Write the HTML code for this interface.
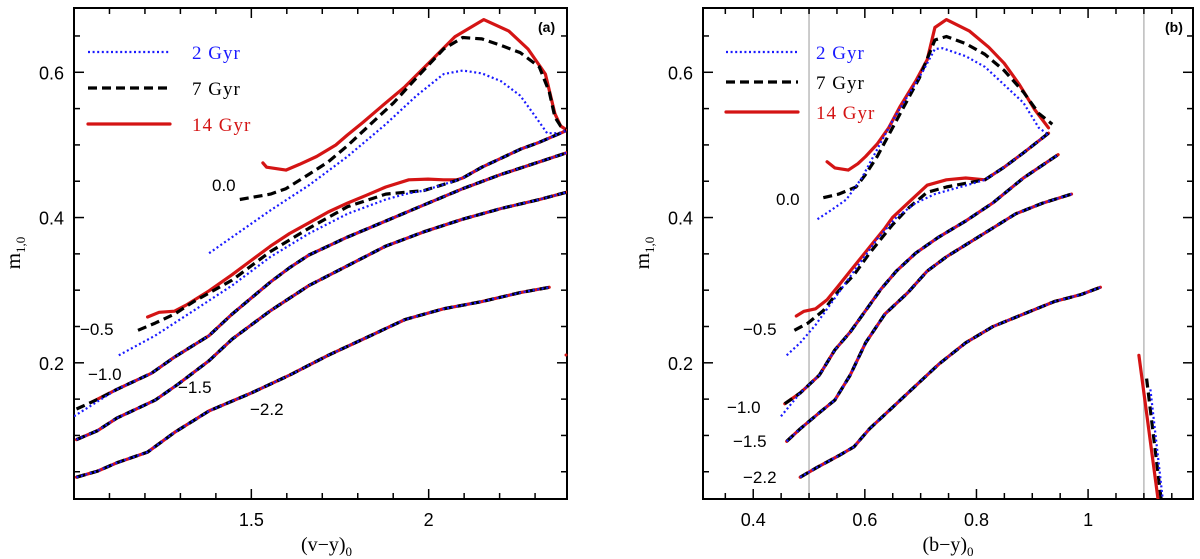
<!DOCTYPE html>
<html><head><meta charset="utf-8"><style>
html,body{margin:0;padding:0;background:#fff;}
svg{display:block;font-family:"Liberation Sans",sans-serif;}
.tl{font-size:18px;fill:#000;}
.lbl{font-size:17px;fill:#000;}
</style></head><body>
<svg id="fig" width="1200" height="559" viewBox="0 0 1200 559">
<defs>
<clipPath id="clipA"><rect x="74" y="8" width="493" height="491"/></clipPath>
<clipPath id="clipB"><rect x="703" y="8" width="490" height="491"/></clipPath>
</defs>
<g id="panelA"></g>
<g id="panelB"></g>
</svg>
<script>
// ---------- Panel (a) data: (v-y)0 vs m1,0 ----------
const aRed00 = [[1.5325,.4752],[1.543,.4693],[1.5975,.4653],[1.6354,.4732],[1.684,.4841],[1.738,.4999],[1.7708,.5137],[1.8142,.5309],[1.879,.558],[1.933,.580],[2.009,.617],[2.074,.649],[2.155,.6725],[2.226,.6567],[2.280,.632],[2.329,.5975],[2.356,.543],[2.372,.526],[2.388,.521]];
const aBlk00 = [[1.4675,.4249],[1.554,.4323],[1.5975,.4397],[1.662,.4594],[1.717,.4767],[1.771,.4989],[1.836,.5285],[1.901,.558],[1.966,.5926],[2.042,.6321],[2.096,.6479],[2.150,.6459],[2.204,.637],[2.258,.6271],[2.312,.6074],[2.340,.5729],[2.356,.5383],[2.372,.526],[2.388,.521]];
const aBlu00 = [[1.381,.3509],[1.4458,.3731],[1.554,.410],[1.6625,.4446],[1.771,.4841],[1.879,.5285],[1.966,.5679],[2.042,.5975],[2.096,.6025],[2.150,.5985],[2.204,.5877],[2.258,.5679],[2.302,.5383],[2.334,.5161],[2.367,.5161],[2.388,.521]];
const aTailM05 = [[2.150,.4693],[2.204,.4816],[2.258,.4939],[2.3126,.5038],[2.388,.5196]];
const aRedM05 = [[1.2075,.2631],[1.240,.2695],[1.2833,.271],[1.3158,.2793],[1.381,.2991],[1.4458,.3213],[1.5,.341],[1.554,.3607],[1.608,.378],[1.6625,.3928],[1.7167,.4076],[1.771,.4199],[1.825,.4308],[1.879,.4421],[1.944,.452],[1.998,.453],[2.042,.452],[2.080,.452],[2.096,.4545]].concat(aTailM05);
const aBlkM05 = [[1.1804,.2448],[1.229,.2547],[1.2833,.267],[1.3375,.2843],[1.4458,.3139],[1.554,.3533],[1.6625,.3854],[1.771,.415],[1.879,.4323],[1.9875,.4372],[2.074,.4505],[2.096,.4545]].concat(aTailM05);
const aBluM05 = [[1.1262,.2103],[1.229,.2374],[1.3375,.2719],[1.4458,.3065],[1.554,.3459],[1.6625,.378],[1.771,.4051],[1.879,.4249],[1.933,.4323],[1.9875,.4372],[2.074,.4505],[2.096,.4545]].concat(aTailM05);
const aM10 = [[1.007,.1364],[1.0666,.1496],[1.1208,.1634],[1.2183,.1856],[1.2833,.2078],[1.3808,.2374],[1.4458,.267],[1.5,.2892],[1.5542,.3114],[1.6083,.3311],[1.6625,.3484],[1.7167,.3607],[1.7709,.3731],[1.8792,.3953],[1.9875,.4175],[2.0959,.4397],[2.2042,.4594],[2.3126,.4767],[2.3884,.489]];
const aRedM10Head = [[1.0504,.1461],[1.1208,.1634]];
const aBluM10Head = [[1.0,.1264],[1.1208,.1634]];
const aM15 = [[1.007,.0943],[1.0666,.1067],[1.1208,.1239],[1.2291,.1486],[1.2941,.1708],[1.3808,.2029],[1.4458,.2325],[1.5,.2522],[1.5542,.2719],[1.6625,.3065],[1.7709,.3336],[1.8792,.3607],[1.9875,.3805],[2.0959,.3977],[2.2042,.4125],[2.3126,.4249],[2.3884,.4347]];
const aM22 = [[1.007,.0425],[1.0666,.0509],[1.1208,.0623],[1.2075,.0771],[1.2833,.1042],[1.3808,.1338],[1.5,.1585],[1.6083,.1831],[1.7167,.2103],[1.825,.2349],[1.9334,.2596],[2.0417,.2744],[2.15,.2843],[2.2584,.2966],[2.3397,.304]];
const aXTicksMajor = [1.5, 2];
const aXTickLabels = ["1.5", "2"];
const aXRange = [1.0, 2.39];

// ---------- Panel (b) data: (b-y)0 vs m1,0 ----------
const bRed00 = [[.5324,.4767],[.5462,.4683],[.5703,.4653],[.5876,.4742],[.6014,.4841],[.6221,.5013],[.6428,.5235],[.6634,.5531],[.691,.5877],[.7117,.6173],[.7255,.6617],[.7462,.6725],[.7876,.6567],[.822,.6345],[.8497,.6123],[.8772,.5827],[.9048,.5482],[.929,.5235]];
const bBlk00 = [[.5255,.4273],[.5531,.4323],[.5841,.4421],[.6014,.4594],[.6221,.4841],[.6428,.5137],[.6703,.5531],[.6979,.5926],[.7255,.6444],[.7462,.6493],[.7807,.6395],[.8152,.6247],[.8497,.6025],[.8841,.5729],[.9117,.5433],[.9359,.5285]];
const bBlu00 = [[.5152,.3977],[.5393,.410],[.5669,.4249],[.5945,.4545],[.6221,.4939],[.6497,.5334],[.6772,.5679],[.7048,.6025],[.7255,.6321],[.7393,.6331],[.7807,.6222],[.8152,.6074],[.8497,.5827],[.8841,.5581],[.9117,.5235],[.9255,.5161]];
const bTailM05 = [[.8152,.452],[.8497,.4693],[.8841,.489],[.929,.5161]];
const bRedM05 = [[.4772,.2645],[.491,.2709],[.5117,.2744],[.5324,.2867],[.5531,.3065],[.5738,.3262],[.5945,.3459],[.6152,.3657],[.6359,.3854],[.6497,.4002],[.6772,.4199],[.7117,.4446],[.7462,.452],[.7807,.4545]].concat(bTailM05);
const bBlkM05 = [[.4738,.2448],[.4979,.2547],[.5255,.2719],[.5531,.2991],[.5807,.3213],[.6083,.3509],[.6497,.3903],[.6772,.4125],[.7117,.4347],[.7462,.4421],[.7807,.4471]].concat(bTailM05);
const bBluM05 = [[.46,.2103],[.4841,.2275],[.5117,.2522],[.5393,.2818],[.5669,.3114],[.5945,.341],[.6221,.3706],[.6566,.4002],[.691,.4199],[.7255,.4323],[.76,.4397],[.7945,.4471]].concat(bTailM05);
const bM10 = [[.4566,.1437],[.4841,.1585],[.5186,.1831],[.5462,.2177],[.5738,.2423],[.6014,.2719],[.629,.3015],[.6566,.3262],[.691,.3509],[.7324,.3731],[.7807,.3953],[.829,.4199],[.8841,.4545],[.9462,.4865]];
const bBluM10Head = [[.4497,.1264],[.4841,.1585]];
const bM15 = [[.46,.0919],[.4841,.1091],[.5186,.1313],[.5462,.1486],[.5738,.1831],[.6014,.2275],[.6359,.267],[.6772,.2966],[.7117,.3262],[.7462,.3459],[.7876,.3657],[.829,.3854],[.8703,.4051],[.9186,.4199],[.9703,.4323]];
const bM22 = [[.4841,.0425],[.5117,.0549],[.5531,.0721],[.5807,.0845],[.6083,.1091],[.6497,.1387],[.691,.1683],[.7324,.198],[.7807,.2275],[.829,.2497],[.8841,.267],[.9393,.2843],[.9876,.294],[1.0221,.304]];
const bRedSteep = [[1.091,.2103],[1.1255,.0115]];
const bBlkSteep = [[1.1048,.1782],[1.131,.0115]];
const bBluSteep = [[1.1117,.1634],[1.1338,.0115]];
const bXTicksMajor = [0.4, 0.6, 0.8, 1.0];
const bXTickLabels = ["0.4", "0.6", "0.8", "1"];
const bXRange = [0.31, 1.188];
const bGuideLines = [0.5, 1.1];

// ---------- shared y axis ----------
const yRange = [0.0125, 0.6885];
const yTicksMajor = [0.2, 0.4, 0.6];
const yTickLabels = ["0.2", "0.4", "0.6"];

const NS = "http://www.w3.org/2000/svg";
function mk(tag, attrs, parent){const e=document.createElementNS(NS,tag);for(const k in attrs)e.setAttribute(k,attrs[k]);parent.appendChild(e);return e;}

const styles = {
  red:{stroke:"#d41414","stroke-width":3.2,fill:"none","stroke-linejoin":"round","stroke-linecap":"round"},
  blk:{stroke:"#000","stroke-width":3.2,fill:"none","stroke-dasharray":"9,5","stroke-linejoin":"round"},
  blu:{stroke:"#1a1aff","stroke-width":2.2,fill:"none","stroke-dasharray":"2,2.6"}
};

function makePanel(g, box, xr, clipId){
  const sx = v => box.x0 + (v - xr[0]) / (xr[1] - xr[0]) * (box.x1 - box.x0);
  const sy = v => box.y1 - (v - yRange[0]) / (yRange[1] - yRange[0]) * (box.y1 - box.y0);
  return {sx, sy, g, box, clipId};
}
function line(P, pts, style, name){
  const d = pts.map((p,i)=>(i?"L":"M")+P.sx(p[0]).toFixed(1)+","+P.sy(p[1]).toFixed(1)).join("");
  const el = mk("path", Object.assign({d:d,"clip-path":"url(#"+P.clipId+")"}, styles[style]), P.g);
  
  
  return el;
}
function axes(P, xMajor, xLabels, xMinorStep, xr, title){
  const b = P.box, g = P.g;
  const fr = mk("rect",{x:b.x0,y:b.y0,width:b.x1-b.x0,height:b.y1-b.y0,fill:"none",stroke:"#000","stroke-width":2},g);
  
  
  const start = Math.ceil(xr[0]/xMinorStep - 1e-6);
  for(let k=start; k*xMinorStep<=xr[1]+1e-9; k++){
    const v = k*xMinorStep;
    const major = xMajor.some(m=>Math.abs(m-v)<1e-6);
    const len = major?10:6, X=P.sx(v);
    mk("line",{x1:X,x2:X,y1:b.y1,y2:b.y1-len,stroke:"#000","stroke-width":1.5},g);
    mk("line",{x1:X,x2:X,y1:b.y0,y2:b.y0+len,stroke:"#000","stroke-width":1.5},g);
  }
  xMajor.forEach((v,i)=>{
    const t = mk("text",{x:P.sx(v),y:b.y1+27,"text-anchor":"middle",class:"tl"},g);
    t.textContent = xLabels[i];
    
    
  });
  for(let k=1; k*0.05<=yRange[1]; k++){
    const v = k*0.05;
    if(v<yRange[0]) continue;
    const major = yTicksMajor.some(m=>Math.abs(m-v)<1e-6);
    const len = major?10:6, Y=P.sy(v);
    mk("line",{x1:b.x0,x2:b.x0+len,y1:Y,y2:Y,stroke:"#000","stroke-width":1.5},g);
    mk("line",{x1:b.x1,x2:b.x1-len,y1:Y,y2:Y,stroke:"#000","stroke-width":1.5},g);
  }
  yTicksMajor.forEach((v,i)=>{
    const t = mk("text",{x:b.x0-10,y:P.sy(v)+7,"text-anchor":"end",class:"tl"},g);
    t.textContent = yTickLabels[i];
    
    
  });
  const xt = mk("text",{x:(b.x0+b.x1)/2+(b.x0<300?6:0),y:551,"text-anchor":"middle",style:"font-family:'Liberation Serif',serif;font-size:20px"},g);
  xt.innerHTML = title+'<tspan dy="5" font-size="13">0</tspan>';
  
  
  const yt = mk("text",{transform:"translate("+(b.x0-54)+",253) rotate(-90)","text-anchor":"middle",style:"font-family:'Liberation Serif',serif;font-size:21px"},g);
  yt.innerHTML = 'm<tspan dy="5" font-size="13">1,0</tspan>';
  
  
}
function legend(P, x0, x1, x2, ys){
  const items=[["blu","2 Gyr","#1a1aff"],["blk","7 Gyr","#000"],["red","14 Gyr","#d41414"]];
  items.forEach((it,i)=>{
    const l = mk("line",Object.assign({x1:x0,x2:x1,y1:ys[i],y2:ys[i]},styles[it[0]]),P.g);
    
    
    const t = mk("text",{x:x2,y:ys[i]+7,fill:it[2],style:"font-family:'Liberation Serif',serif;font-size:19px;letter-spacing:1px"},P.g);
    t.textContent = it[1];
    
    
  });
}
function label(P, x, y, txt, name, cls){
  const t = mk("text",{x:x,y:y,class:cls||"lbl"},P.g);
  t.textContent = txt;
  
  
}

// Panel A
const PA = makePanel(document.getElementById("panelA"), {x0:74,x1:567,y0:8,y1:499}, aXRange, "clipA");
axes(PA, aXTicksMajor, aXTickLabels, 0.1, aXRange, "(v−y)");
[[aRed00,aBlk00,aBlu00,"z00"],[aRedM05,aBlkM05,aBluM05,"zm05"]].forEach(s=>{
  line(PA,s[0],"red","a-14gyr-"+s[3]); line(PA,s[1],"blk","a-7gyr-"+s[3]); line(PA,s[2],"blu","a-2gyr-"+s[3]);
});
line(PA,aRedM10Head.concat(aM10.slice(3)),"red","a-14gyr-zm10");
line(PA,aM10,"blk","a-7gyr-zm10");
line(PA,aBluM10Head.concat(aM10.slice(3)),"blu","a-2gyr-zm10");
[[aM15,"zm15"],[aM22,"zm22"]].forEach(s=>{
  line(PA,s[0],"red","a-14gyr-"+s[1]); line(PA,s[0],"blk","a-7gyr-"+s[1]); line(PA,s[0],"blu","a-2gyr-"+s[1]);
});
mk("circle",{cx:566,cy:355,r:1.5,fill:"#d41414"},PA.g);
legend(PA, 88, 170, 192, [52, 88, 124]);
label(PA, 212, 191, "0.0", "label-feh-0.0");
label(PA, 80, 335, "−0.5", "label-feh-m0.5");
label(PA, 88, 380, "−1.0", "label-feh-m1.0");
label(PA, 178, 393, "−1.5", "label-feh-m1.5");
label(PA, 250, 415, "−2.2", "label-feh-m2.2");
label(PA, 538, 32, "(a)", "panel-label-a", "");
PA.g.lastChild.setAttribute("style","font-size:14px;font-weight:bold");

// Panel B
const PB = makePanel(document.getElementById("panelB"), {x0:703,x1:1193,y0:8,y1:499}, bXRange, "clipB");
bGuideLines.forEach(v=>{
  const l = mk("line",{x1:PB.sx(v),x2:PB.sx(v),y1:8,y2:499,stroke:"#bbb","stroke-width":1.5},PB.g);
  
  
});
axes(PB, bXTicksMajor, bXTickLabels, 0.05, bXRange, "(b−y)");
[[bRed00,bBlk00,bBlu00,"z00"],[bRedM05,bBlkM05,bBluM05,"zm05"],[bRedSteep,bBlkSteep,bBluSteep,"steep"]].forEach(s=>{
  line(PB,s[0],"red","b-14gyr-"+s[3]); line(PB,s[1],"blk","b-7gyr-"+s[3]); line(PB,s[2],"blu","b-2gyr-"+s[3]);
});
line(PB,bM10,"red","b-14gyr-zm10");
line(PB,bM10,"blk","b-7gyr-zm10");
line(PB,bBluM10Head.concat(bM10.slice(1)),"blu","b-2gyr-zm10");
[[bM15,"zm15"],[bM22,"zm22"]].forEach(s=>{
  line(PB,s[0],"red","b-14gyr-"+s[1]); line(PB,s[0],"blk","b-7gyr-"+s[1]); line(PB,s[0],"blu","b-2gyr-"+s[1]);
});
legend(PB, 726, 798, 816, [52, 82, 112]);
label(PB, 776, 205, "0.0", "label-feh-0.0");
label(PB, 743, 335, "−0.5", "label-feh-m0.5");
label(PB, 727, 413, "−1.0", "label-feh-m1.0");
label(PB, 733, 447, "−1.5", "label-feh-m1.5");
label(PB, 743, 483, "−2.2", "label-feh-m2.2");
label(PB, 1165, 32, "(b)", "panel-label-b", "");
PB.g.lastChild.setAttribute("style","font-size:14px;font-weight:bold");
</script>
</body></html>
